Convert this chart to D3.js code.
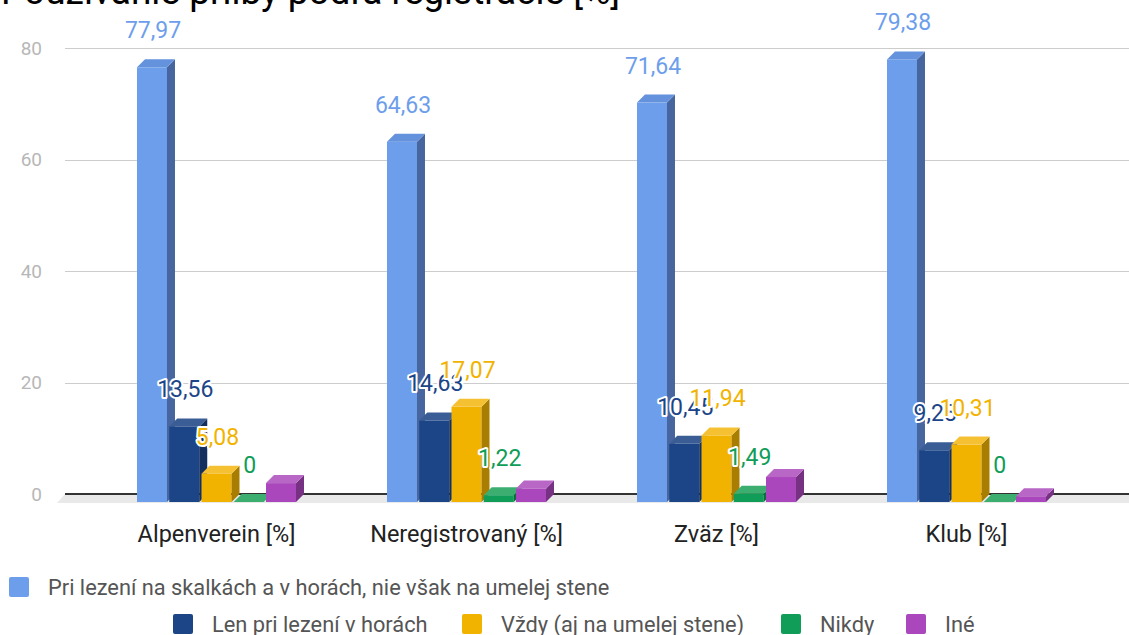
<!DOCTYPE html>
<html>
<head>
<meta charset="utf-8">
<script src="https://cdn.jsdelivr.net/npm/d3@7"></script>
<style>
  html, body { margin: 0; padding: 0; background: #fff; }
  svg { display: block; font-family: Roboto, "Noto Sans", sans-serif; }
</style>
</head>
<body>
<svg id="chart" width="1129" height="635"></svg>
<script>
// Helmet use by registration type, percent of respondents
const title = "Používanie prilby podľa registrácie [%]";
const categories = ["Alpenverein [%]", "Neregistrovaný [%]", "Zväz [%]", "Klub [%]"];
const seriesNames = [
  "Pri lezení na skalkách a v horách, nie však na umelej stene",
  "Len pri lezení v horách",
  "Vždy (aj na umelej stene)",
  "Nikdy",
  "Iné"
];
const skalyHory = [77.97, 64.63, 71.64, 79.38];
const lenHory   = [13.56, 14.63, 10.45, 9.28];
const vzdy      = [5.08, 17.07, 11.94, 10.31];
const nikdy     = [0, 1.22, 1.49, 0];
const ine       = [3.39, 2.44, 4.48, 1.03];
const yTicks    = [0, 20, 40, 60, 80];
// which series carry value labels
const showLabel = [true, true, true, true, false];

const seriesValues = [skalyHory, lenHory, vzdy, nikdy, ine];
const colors = [
  { front: "#6d9eeb", top: "#6492dd", side: "#4766a0" },
  { front: "#1c4587", top: "#3a5d96", side: "#132f5e" },
  { front: "#f1b300", top: "#f5c133", side: "#a97d00" },
  { front: "#0f9d58", top: "#3bae70", side: "#0a6e3e" },
  { front: "#ab47bc", top: "#b867c7", side: "#773183" }
];

const svg = d3.select("#chart");
const depth = 8;            // 3D extrusion offset
const plotLeft = 65, plotRight = 1129;

const x0 = d3.scaleBand().domain(categories).range([99.5, 1099.5])
  .paddingInner(0.364).paddingOuter(0.182);
const x1 = d3.scaleBand().domain(d3.range(seriesNames.length))
  .range([0, x0.bandwidth()]).paddingInner(0.07).paddingOuter(0);
const y = d3.scaleLinear().domain([0, 80]).range([494, 48]);

// title (partly above the visible area)
svg.append("text").attr("x", 1).attr("y", 4)
  .attr("font-size", 37).attr("fill", "#000").text(title);

// gridlines and y tick labels
const yAxis = svg.append("g");
yAxis.selectAll("line").data(yTicks.filter(t => t > 0)).join("line")
  .attr("x1", plotLeft).attr("x2", plotRight)
  .attr("y1", d => Math.round(y(d)) + 0.5).attr("y2", d => Math.round(y(d)) + 0.5)
  .attr("stroke", "#cccccc").attr("stroke-width", 1.2);
yAxis.selectAll("text").data(yTicks).join("text")
  .attr("x", 42).attr("y", d => y(d)).attr("dy", "0.35em")
  .attr("text-anchor", "end").attr("font-size", 19).attr("fill", "#b7b7b7")
  .text(d => d);

// floor of the 3D plot
const y0 = y(0);
svg.append("path")
  .attr("d", `M${plotLeft},${y0} L${plotRight},${y0} L${plotRight},${y0 + depth + 1} L${plotLeft - depth},${y0 + depth + 1} Z`)
  .attr("fill", "#e9e9e9");
svg.append("line")
  .attr("x1", plotLeft).attr("x2", plotRight).attr("y1", y0).attr("y2", y0)
  .attr("stroke", "#333").attr("stroke-width", 2);

// bars, drawn left to right so each one hides its neighbour's side face
const bars = svg.append("g");
categories.forEach((cat, ci) => {
  seriesValues.forEach((vals, si) => {
    const v = vals[ci];
    const w = x1.bandwidth();
    const xf = x0(cat) + x1(si) - depth;
    const topF = y(v) + depth;
    const botF = y0 + depth;
    const c = colors[si];
    const g = bars.append("g");
    g.append("rect").attr("x", xf).attr("y", topF)
      .attr("width", w).attr("height", Math.max(0, botF - topF)).attr("fill", c.front);
    g.append("path")
      .attr("d", `M${xf + w},${topF} L${xf + w + depth},${topF - depth} L${xf + w + depth},${botF - depth} L${xf + w},${botF} Z`)
      .attr("fill", c.side);
    g.append("path")
      .attr("d", `M${xf},${topF} L${xf + depth},${topF - depth} L${xf + w + depth},${topF - depth} L${xf + w},${topF} Z`)
      .attr("fill", c.top);
  });
});

// value labels with a white halo
const labels = svg.append("g");
categories.forEach((cat, ci) => {
  seriesValues.forEach((vals, si) => {
    if (!showLabel[si]) return;
    const v = vals[ci];
    labels.append("text")
      .attr("x", x0(cat) + x1(si) - depth + x1.bandwidth() / 2 + 1)
      .attr("y", y(v) - 21)
      .attr("text-anchor", "middle").attr("font-size", 23)
      .attr("fill", colors[si].front)
      .attr("stroke", "#fff").attr("stroke-width", 4).attr("stroke-linejoin", "round")
      .attr("paint-order", "stroke")
      .text(d3.format(".2~f")(v).replace(".", ","));
  });
});

// category labels
svg.append("g").selectAll("text").data(categories).join("text")
  .attr("x", d => x0(d) - depth + x0.bandwidth() / 2)
  .attr("y", 542).attr("text-anchor", "middle")
  .attr("font-size", 23.5).attr("fill", "#222").text(d => d);

// legend
const legend = svg.append("g").attr("font-size", 21.8).attr("fill", "#555");
const legendItems = [
  { si: 0, x: 9,   y: 587 },
  { si: 1, x: 173, y: 624 },
  { si: 2, x: 462, y: 624 },
  { si: 3, x: 781, y: 624 },
  { si: 4, x: 906, y: 624 }
];
legendItems.forEach(it => {
  legend.append("rect").attr("x", it.x).attr("y", it.y - 10)
    .attr("width", 20).attr("height", 20).attr("rx", 2)
    .attr("fill", colors[it.si].front);
  legend.append("text").attr("x", it.x + 39).attr("y", it.y).attr("dy", "0.35em")
    .text(seriesNames[it.si]);
});
</script>
</body>
</html>
